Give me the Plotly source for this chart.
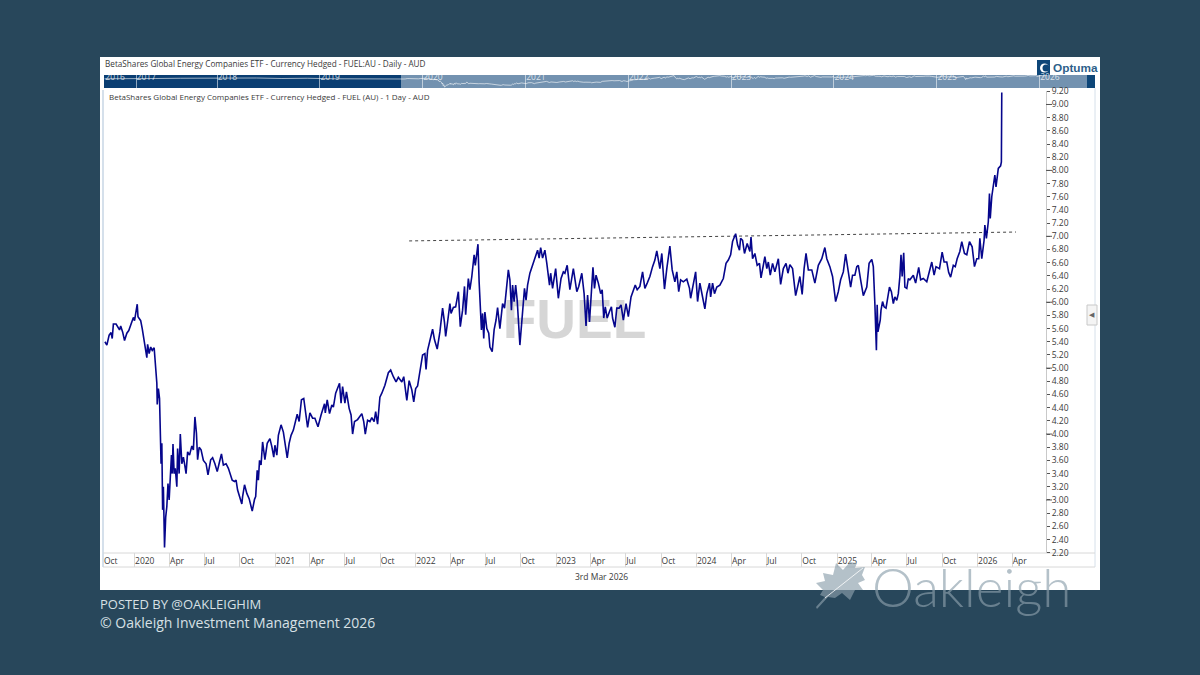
import pandas as pd
import plotly.graph_objects as go

W, H = 1200, 675
BASE = pd.Timestamp("2020-01-01")

# Closing prices: days since 1 Jan 2020, and AUD price
price_day = [-77,-72,-66,-61,-58,-55,-48,-44,-39,-36,-31,-26,-20,-15,-7,-3,0,3,7,9,16,20,26,30,32,34,38,42,46,51,53,58,59,62,65,67,69,71,73,75,78,81,84,87,90,92,96,98,100,103,106,110,112,116,119,123,127,130,134,138,143,149,153,157,161,164,168,173,179,186,191,198,203,209,215,221,226,231,238,244,248,
 254,260,264,268,272,279,281,286,292,298,301,306,312,315,319,322,325,329,333,339,345,352,357,362,365,370,374,381,387,391,397,402,407,413,417,423,428,434,440,445,450,456,463,469,477,485,494,496,501,507,513,517,523,533,537,541,547,551,558,563,567,572,580,591,596,600,606,612,617,623,627,632,638,643,651,660,666,673,680,686,695,700,708,714,721,726,731,736,742,749,755,
 758,762,768,775,780,787,794,801,806,809,814,820,823,829,835,842,847,853,858,861,868,872,877,883,886,893,896,899,902,905,908,911,916,921,924,930,935,940,944,950,957,962,966,972,976,980,983,987,991,995,1002,1006,1009,1014,1018,1022,1028,1032,1037,1041,1048,1052,1056,1061,1067,1072,1079,1082,1087,1095,1102,
 1109,1115,1119,1125,1132,1141,1150,1155,1163,1169,1174,1178,1183,1187,1192,1196,1200,1206,1212,1216,1220,1224,1229,1235,1240,1243,1249,1254,1260,1265,1271,1278,1284,1291,1297,1302,1307,1314,1321,1327,1333,1340,1347,1353,1358,1362,1366,1371,1378,1384,1392,1398,1405,1410,1415,1420,1427,1436,1443,1446,1453,1459,1464,1470,1476,1483,1488,1495,
 1498,1503,1508,1514,1522,1531,1538,1544,1550,1555,1563,1568,1573,1576,1581,1586,1593,1600,1603,1607,1613,1619,1625,1629,1639,1644,1648,1653,1659,1665,1674,1680,1687,1694,1699,1704,1711,1719,1724,1730,1736,1741,1746,1752,1761,1769,1778,1787,1795,1800,1808,1815,1823,1830,1836,1843,1849,1856,1862,1867,1873,1878,1882,1888,1895,1904,1910,1917,1921,1925,1927,1929,1931,1933,1939,
 1941,1945,1949,1954,1960,1963,1968,1973,1977,1982,1986,1990,1993,1996,2000,2003,2008,2012,2016,2025,2031,2039,2044,2051,2060,2067,2073,2079,2084,2093,2100,2105,2112,2117,2122,2129,2134,2139,2146,2151,2158,2164,2171,2178,2184,2190,2195,2198,2203,2209,2211,2215,2220,2223,2225,2229,2233,2237,2240,2246,2252,2254,2255]
price_close = [5.40,5.35,5.50,5.54,5.45,5.67,5.67,5.63,5.58,5.64,5.55,5.42,5.53,5.57,5.70,5.77,5.72,5.82,5.97,5.78,5.72,5.60,5.40,5.28,5.16,5.36,5.22,5.32,5.27,5.31,5.15,4.77,4.45,4.69,4.54,4.16,3.55,3.86,2.85,3.20,2.28,2.74,2.90,3.25,3.00,3.23,3.68,3.40,3.85,3.40,3.48,3.20,3.78,3.40,4.00,3.55,3.65,3.55,3.40,3.73,3.68,3.82,3.76,4.26,4.01,3.61,3.80,3.76,3.60,3.55,3.38,3.61,3.64,3.55,3.43,3.58,3.70,3.53,3.55,3.48,3.40,
 3.30,3.28,3.30,3.15,3.07,2.94,3.05,3.23,3.10,3.02,2.95,2.83,3.01,3.05,3.45,3.30,3.60,3.53,3.88,3.61,3.86,3.93,3.81,3.65,3.83,3.68,3.98,4.14,4.03,3.88,3.64,3.86,3.98,4.06,4.16,4.30,4.19,4.52,4.54,4.34,4.10,4.32,4.24,4.24,4.11,4.29,4.46,4.32,4.52,4.31,4.44,4.41,4.62,4.77,4.47,4.72,4.47,4.64,4.39,4.29,4.00,4.19,4.22,4.31,4.19,4.00,4.21,4.19,4.25,4.19,4.34,4.15,4.56,4.62,4.74,4.93,4.97,4.87,4.79,4.86,4.79,4.87,4.51,4.81,4.67,4.49,4.69,4.73,4.92,5.20,5.22,
 4.98,5.27,5.41,5.59,5.43,5.29,5.55,5.91,5.69,5.48,5.70,5.98,5.83,5.92,5.93,6.16,5.63,5.88,6.24,5.81,6.36,6.19,6.39,6.72,6.56,6.88,6.31,5.83,5.58,5.83,5.45,5.85,5.60,5.53,5.32,5.25,5.58,5.73,5.92,5.60,5.98,5.91,6.19,6.49,6.34,5.88,6.26,6.01,6.26,6.03,5.35,5.68,5.83,6.21,6.03,6.26,6.44,6.51,6.59,6.67,6.79,6.67,6.83,6.67,6.79,6.59,6.26,6.44,6.21,6.51,6.06,
 6.36,6.46,6.44,6.56,6.19,6.51,6.16,6.24,6.44,6.13,5.64,6.11,5.70,6.08,6.53,6.21,6.41,6.29,6.13,6.19,5.76,5.93,5.76,5.86,5.93,5.76,5.62,5.91,5.91,5.96,5.73,5.98,5.78,6.08,6.19,6.26,6.19,6.24,6.46,6.21,6.29,6.39,6.54,6.64,6.78,6.62,6.51,6.74,6.20,6.51,6.85,6.49,6.31,6.46,6.16,6.34,6.31,6.35,6.21,6.06,6.31,6.46,6.01,6.29,6.11,5.90,6.13,6.29,
 6.08,6.29,6.13,6.23,6.26,6.36,6.59,6.64,6.72,6.92,7.04,6.87,6.79,6.97,6.94,6.74,6.89,6.77,6.99,6.66,6.74,6.56,6.59,6.37,6.69,6.51,6.61,6.41,6.59,6.46,6.66,6.27,6.51,6.59,6.44,6.57,6.51,6.10,6.23,6.39,6.12,6.51,6.74,6.49,6.49,6.29,6.56,6.66,6.83,6.66,6.54,6.39,6.01,6.16,6.34,6.46,6.73,6.46,6.23,6.41,6.41,6.54,6.56,6.34,6.10,6.23,6.59,6.65,6.54,5.98,5.45,5.27,5.96,5.55,5.73,
 5.88,6.01,5.93,5.91,6.18,6.23,6.16,5.98,6.08,6.03,6.13,6.39,6.72,6.39,6.75,6.23,6.21,6.36,6.34,6.41,6.29,6.53,6.34,6.36,6.31,6.46,6.61,6.41,6.54,6.51,6.76,6.61,6.61,6.45,6.38,6.56,6.54,6.66,6.77,6.92,6.74,6.72,6.92,6.84,6.54,6.66,6.66,6.97,6.66,6.94,7.17,6.97,7.22,7.65,7.27,7.60,7.75,7.93,7.75,8.03,8.07,8.13,9.18]

# Overview strip: history before the main window, read from the strip
nav_history_day = [-1130,-1040,-950,-860,-770,-680,-590,-500,-410,-320,-230,-140,-82]
nav_history_price = [5.6,5.5,5.7,5.8,5.9,6.0,5.9,5.7,5.8,5.6,5.5,5.3,5.4]

# Resistance line drawn on the chart
trend_day = [714, 2292]
trend_price = [6.93, 7.065]

x_tick_dates = ["2019-10-12","2020-01-01","2020-04-01","2020-07-01","2020-10-01","2021-01-01","2021-04-01","2021-07-01","2021-10-01",
                "2022-01-01","2022-04-01","2022-07-01","2022-10-01","2023-01-01","2023-04-01","2023-07-01","2023-10-01",
                "2024-01-01","2024-04-01","2024-07-01","2024-10-01","2025-01-01","2025-04-01","2025-07-01","2025-10-01",
                "2026-01-01","2026-04-01"]
x_tick_labels = ["Oct","2020","Apr","Jul","Oct","2021","Apr","Jul","Oct","2022","Apr","Jul","Oct","2023","Apr","Jul","Oct",
                 "2024","Apr","Jul","Oct","2025","Apr","Jul","Oct","2026","Apr"]
y_tick_values = [round(2.2 + 0.2 * i, 1) for i in range(36)]
y_whole_values = [3, 4, 5, 6, 7, 8, 9]
nav_tick_dates = ["2016-11-28","2017-03-19","2018-01-01","2019-01-01","2020-01-01","2021-01-01","2022-01-01","2023-01-01","2024-01-01","2025-01-01","2026-01-01"]
nav_tick_labels = ["2016","2017","2018","2019","2020","2021","2022","2023","2024","2025","2026"]


def to_dates(days):
    return BASE + pd.to_timedelta(days, unit="D")


def fx(p):
    return p / W


def fy(p):
    return 1 - p / H


def rect(x0, y0, x1, y1, fill, line=None, width=0):
    return dict(type="rect", xref="paper", yref="paper", x0=fx(x0), x1=fx(x1), y0=fy(y0), y1=fy(y1),
                fillcolor=fill, line=dict(color=line or fill, width=width), layer="below")


def hline(x0, x1, y, color, width=1):
    return dict(type="line", xref="paper", yref="paper", x0=fx(x0), x1=fx(x1), y0=fy(y), y1=fy(y),
                line=dict(color=color, width=width), layer="below")


def vline(x, y0, y1, color, width=1):
    return dict(type="line", xref="paper", yref="paper", x0=fx(x), x1=fx(x), y0=fy(y0), y1=fy(y1),
                line=dict(color=color, width=width), layer="below")


def poly(points, fill):
    d = "M" + " L".join(f"{fx(a):.5f},{fy(b):.5f}" for a, b in points) + " Z"
    return dict(type="path", xref="paper", yref="paper", path=d, fillcolor=fill, line=dict(width=0), layer="above")


def label(x, y, text, size, color, family="Open Sans", anchor="left", **kw):
    font = dict(size=size, color=color, family=family)
    font.update(kw.pop("font", {}))
    return dict(xref="paper", yref="paper", x=fx(x), y=fy(y), text=text, showarrow=False, xanchor=anchor,
                yanchor="middle", font=font, **kw)


INK = "#3a3a3a"
LOGO_FADE = "rgba(140,160,172,0.65)"
leaf = [(825,597),(820,595),(823,590),(816,583),(825,581),(823,573),(833,575),(836,563),(843,570),(850,562),(857,563),(855,568),
        (865,567),(862,575),(865,580),(858,583),(863,590),(855,590),(850,600),(842,593),(835,598),(828,597),(817,609),(816,607)]

shapes = [
    rect(100, 57, 1100, 590, "#ffffff"),
    rect(104, 75, 401, 88, "#0a3e72"),
    rect(401, 75, 1087, 88, "#7392b0"),
    rect(1087, 75, 1095, 88, "#0d4678"),
    vline(103, 90, 567, "#c7d6e4", 1.5),
    vline(1095, 88, 567, "#d6e0ea", 1),
    hline(103, 1095, 553, "#d8d8d8"),
    hline(103, 1095, 567, "#d8d8d8"),
    rect(1087, 305, 1097, 325, "#f4f4f4", "#c8c8c8", 1),
    rect(1037, 60, 1050, 75, "#0d4678"),
    dict(type="circle", xref="paper", yref="paper", x0=fx(1040), x1=fx(1049), y0=fy(72.5), y1=fy(63.5),
         fillcolor="#ffffff", line=dict(width=0), layer="above"),
    dict(type="circle", xref="paper", yref="paper", x0=fx(1042.5), x1=fx(1049.5), y0=fy(71.5), y1=fy(64.5),
         fillcolor="#0d4678", line=dict(width=0), layer="above"),
    poly(leaf, LOGO_FADE),
    dict(type="line", xref="paper", yref="paper", x0=fx(825), x1=fx(863), y0=fy(598), y1=fy(568),
         line=dict(color="rgba(255,255,255,0.8)", width=1), layer="above"),
]
for v in y_whole_values:
    shapes.append(dict(type="line", xref="paper", yref="y", x0=fx(1046), x1=fx(1052), y0=v, y1=v,
                       line=dict(color="#555555", width=1), layer="above"))

fig = go.Figure()
fig.add_trace(go.Scatter(x=["2023-02-18"], y=[5.66], mode="text", text=["<b>FUEL</b>"], textposition="middle center",
                         textfont=dict(family="Liberation Sans", size=55, color="#d6d6d6"),
                         hoverinfo="skip", showlegend=False))
fig.add_trace(go.Scatter(x=to_dates(trend_day), y=trend_price, mode="lines", showlegend=False,
                         line=dict(color="#444444", width=1, dash="3px,3px")))
fig.add_trace(go.Scatter(x=to_dates(price_day), y=price_close, mode="lines", showlegend=False,
                         line=dict(color="#06068c", width=1.6)))
fig.add_trace(go.Scatter(x=to_dates(nav_history_day + price_day), y=nav_history_price + price_close, mode="lines",
                         xaxis="x2", yaxis="y2", showlegend=False,
                         line=dict(color="rgba(255,255,255,0.75)", width=0.8)))

fig.update_layout(
    width=W, height=H, margin=dict(l=0, r=0, t=0, b=0, autoexpand=False), autosize=False,
    paper_bgcolor="#28475b", plot_bgcolor="rgba(0,0,0,0)", showlegend=False,
    shapes=shapes,
    xaxis=dict(domain=[fx(103), fx(1046)], range=["2019-10-11", "2026-06-28"], type="date", anchor="free", position=fy(567),
               tickmode="array", tickvals=x_tick_dates, ticktext=x_tick_labels, ticks="inside", ticklen=14,
               tickcolor="#d8d8d8", ticklabelposition="inside right", ticklabelstandoff=-5,
               tickfont=dict(family="Open Sans", size=8.5, color=INK),
               showgrid=False, showline=False, zeroline=False, automargin=False),
    yaxis=dict(domain=[fy(552.7), fy(91.3)], range=[2.2, 9.2], side="right", anchor="x",
               tickmode="array", tickvals=y_tick_values, ticktext=[f"{v:.2f}" for v in y_tick_values],
               ticks="outside", ticklen=3, tickcolor="#555555", tickfont=dict(family="Open Sans", size=8.5, color=INK),
               showgrid=False, showline=True, linecolor="#c9c9c9", zeroline=False, automargin=False),
    xaxis2=dict(domain=[fx(104), fx(1087)], range=["2016-11-25", "2026-06-18"], type="date", anchor="y2",
                tickmode="array", tickvals=nav_tick_dates, ticktext=nav_tick_labels, ticks="inside", ticklen=13,
                tickcolor="rgba(255,255,255,0.55)", ticklabelposition="inside right",
                tickfont=dict(family="Open Sans", size=8.5, color="rgba(255,255,255,0.75)"),
                showgrid=False, showline=False, zeroline=False, automargin=False),
    yaxis2=dict(domain=[fy(88), fy(75)], range=[1.9, 7.1], anchor="x2", visible=False),
    annotations=[
        label(103, 64, "BetaShares Global Energy Companies ETF - Currency Hedged - FUEL:AU - Daily - AUD", 8.2, INK),
        label(107, 97, "BetaShares Global Energy Companies ETF - Currency Hedged - FUEL (AU) - 1 Day - AUD", 8, INK),
        label(601, 576, "3rd Mar 2026", 8.5, INK, anchor="center"),
        label(1092, 315, "◀", 7, "#666666", family="DejaVu Sans", anchor="center"),
        label(1051, 68, "Optuma", 11.8, "#2e5f8a", family="Liberation Sans", font=dict(weight="bold")),
        label(870, 586, "Oakleigh", 53, LOGO_FADE, family="Lato", font=dict(weight=300)),
        label(98, 604, "POSTED BY @OAKLEIGHIM", 13, "#d7e0e5"),
        label(98, 622, "© Oakleigh Investment Management 2026", 14, "#d7e0e5"),
    ],
)

fig.write_html("out.html", config={"displayModeBar": False},
               post_script="document.body.style.margin='0';document.body.style.background='#28475b';")
